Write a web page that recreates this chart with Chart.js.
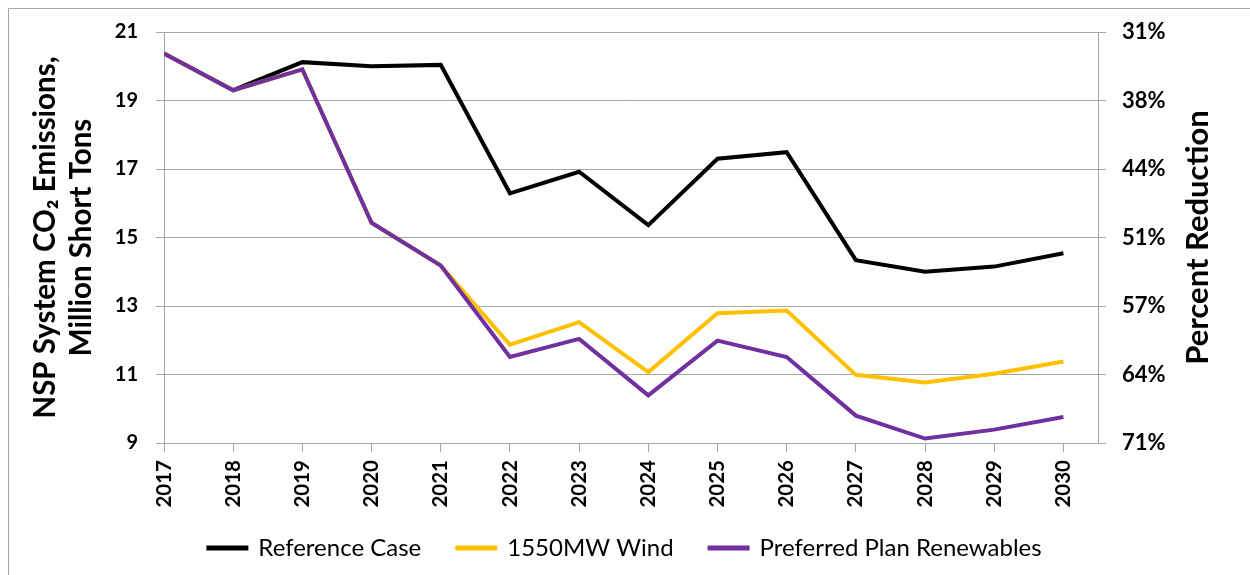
<!DOCTYPE html>
<html>
<head>
<meta charset="utf-8">
<script src="https://cdn.jsdelivr.net/npm/chart.js@4.4.0/dist/chart.umd.min.js"></script>
<style>
  html, body { margin: 0; padding: 0; background: #fff; overflow: hidden; }
  #wrap { position: absolute; left: 0; top: 0; width: 1250px; height: 575px; }
</style>
</head>
<body>
<div id="wrap"><canvas id="emissionsChart" width="1250" height="575"></canvas></div>
<script>
// years on the x axis
const years = [2017, 2018, 2019, 2020, 2021, 2022, 2023, 2024, 2025, 2026, 2027, 2028, 2029, 2030];

// million short tons of CO2
const referenceCase = [20.37, 19.30, 20.12, 20.00, 20.04, 16.29, 16.92, 15.36, 17.30, 17.49, 14.34, 14.00, 14.15, 14.54];
const wind1550 = [20.37, 19.30, 19.91, 15.43, 14.18, 11.87, 12.53, 11.07, 12.79, 12.87, 10.99, 10.77, 11.02, 11.38];
const preferredPlan = [20.37, 19.30, 19.91, 15.43, 14.18, 11.51, 12.04, 10.39, 11.99, 11.51, 9.80, 9.13, 9.39, 9.76];

// left axis ticks and matching right axis labels
const leftTicks = [9, 11, 13, 15, 17, 19, 21];
const pctLabels = ["71%", "64%", "57%", "51%", "44%", "38%", "31%"];

const gridGrey = "#a6a6a6";
const fontFamily = "Lato, 'Open Sans', sans-serif";

// outer frame, legend nudge and right title (reads bottom to top, which chart.js won't do on a right axis)
const extras = {
  id: "extras",
  afterLayout(chart) {
    // legend padding is big for the horizontal gaps, pull the row back up
    const legend = chart.legend;
    const h = legend.bottom - legend.top;
    legend.top = 500;
    legend.bottom = 500 + h;
  },
  beforeDraw(chart) {
    const ctx = chart.ctx;
    ctx.save();
    ctx.strokeStyle = gridGrey;
    ctx.lineWidth = 1;
    ctx.beginPath();
    ctx.moveTo(8.5, 575);
    ctx.lineTo(8.5, 8.5);
    ctx.lineTo(1250, 8.5);
    ctx.stroke();
    ctx.restore();
  },
  afterDraw(chart) {
    const ctx = chart.ctx;
    const area = chart.chartArea;
    ctx.save();
    ctx.translate(1198, (area.top + area.bottom) / 2);
    ctx.rotate(-Math.PI / 2);
    ctx.font = "bold 31px " + fontFamily;
    ctx.fillStyle = "#000";
    ctx.textAlign = "center";
    ctx.textBaseline = "middle";
    ctx.fillText("Percent Reduction", 0, 0);
    ctx.restore();
  },
};

const ctx = document.getElementById("emissionsChart").getContext("2d");

new Chart(ctx, {
  type: "line",
  data: {
    labels: years,
    datasets: [
      {
        label: "Reference Case",
        data: referenceCase,
        borderColor: "#000000",
        backgroundColor: "#000000",
        borderWidth: 4,
        pointRadius: 0,
        order: 3,
      },
      {
        label: "1550MW Wind",
        data: wind1550,
        borderColor: "#ffc000",
        backgroundColor: "#ffc000",
        borderWidth: 4,
        pointRadius: 0,
        order: 2,
      },
      {
        label: "Preferred Plan Renewables",
        data: preferredPlan,
        borderColor: "#7030a0",
        backgroundColor: "#7030a0",
        borderWidth: 4,
        pointRadius: 0,
        order: 1,
      },
    ],
  },
  options: {
    responsive: false,
    animation: false,
    layout: { padding: { left: 0, right: 0, top: 32, bottom: 4 } },
    plugins: {
      tooltip: { enabled: false },
      legend: {
        position: "bottom",
        maxHeight: 64,
        labels: {
          boxWidth: 38,
          boxHeight: 1,
          padding: 36,
          color: "#000",
          font: { family: fontFamily, size: 24 },
          sort: (a, b) => a.datasetIndex - b.datasetIndex,
        },
      },
    },
    scales: {
      x: {
        type: "linear",
        min: 2017,
        max: 2030.5,
        afterBuildTicks: (scale) => {
          scale.ticks = years.map((y) => ({ value: y }));
        },
        afterFit: (scale) => {
          scale.height = 575 - 4 - scale.chart.legend.height - 443;
        },
        grid: {
          drawOnChartArea: false,
          drawTicks: true,
          tickLength: 9,
          color: gridGrey,
        },
        border: { color: gridGrey },
        ticks: {
          minRotation: 90,
          maxRotation: 90,
          padding: 8,
          color: "#000",
          font: { family: fontFamily, size: 20.5, weight: "bold" },
          callback: (value) => String(value),
        },
      },
      y: {
        position: "left",
        min: 9,
        max: 21,
        afterBuildTicks: (scale) => {
          scale.ticks = leftTicks.map((v) => ({ value: v }));
        },
        afterFit: (scale) => {
          scale.width = 164;
        },
        grid: { color: gridGrey, tickLength: 8 },
        border: { color: gridGrey },
        ticks: {
          padding: 18,
          color: "#000",
          font: { family: fontFamily, size: 20, weight: "bold" },
        },
        title: {
          display: true,
          text: ["NSP System CO\u2082 Emissions,", "Million Short Tons"],
          color: "#000",
          font: { family: fontFamily, size: 29.5, weight: "bold", lineHeight: 1.2 },
          padding: { top: 28, bottom: 0 },
        },
      },
      y2: {
        position: "right",
        min: 9,
        max: 21,
        afterBuildTicks: (scale) => {
          scale.ticks = leftTicks.map((v) => ({ value: v }));
        },
        afterFit: (scale) => {
          scale.width = 1250 - 1098;
        },
        grid: { drawOnChartArea: false, color: gridGrey, tickLength: 8 },
        border: { color: gridGrey },
        ticks: {
          padding: 16,
          color: "#000",
          font: { family: fontFamily, size: 22, weight: "bold" },
          callback: (value) => pctLabels[leftTicks.indexOf(value)],
        },
      },
    },
  },
  plugins: [extras],
});
</script>
</body>
</html>
